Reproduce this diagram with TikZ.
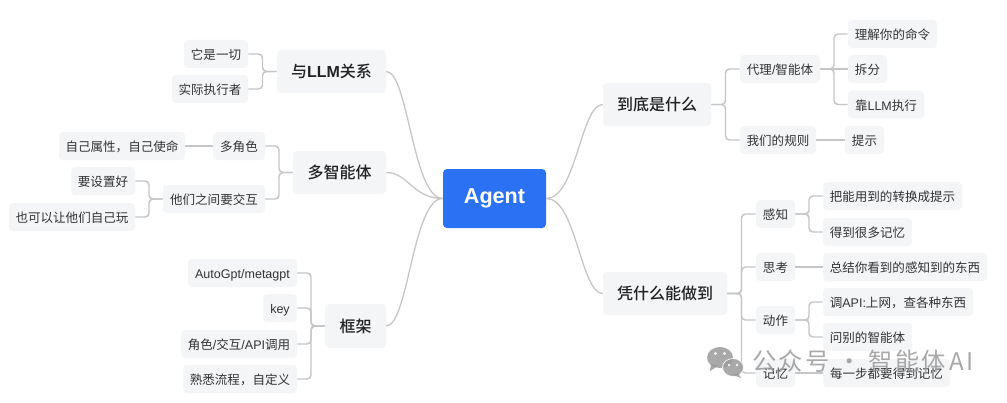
\documentclass[tikz,border=0pt]{standalone}
\usepackage{fontspec}
\usetikzlibrary{calc}
\setmainfont{Noto Sans CJK SC}
\newfontfamily\headf{Noto Sans CJK SC Medium}
\newfontfamily\latf{Liberation Sans}
\newfontfamily\latb{Liberation Sans Bold}
\newfontfamily\wmf[LetterSpace=9]{Noto Sans CJK SC}
\newcommand\lat[1]{{\latf #1}}
\definecolor{boxfill}{HTML}{F4F5F7}
\definecolor{boxtext}{HTML}{333333}
\definecolor{headtext}{HTML}{222222}
\definecolor{linkgray}{HTML}{C6C6C6}
\definecolor{rootblue}{HTML}{2B71F4}
\definecolor{wmgray}{HTML}{9A9A9A}
\tikzset{
  sz/.style 2 args={minimum width=#1*0.75pt,minimum height=#2*0.75pt},
  basebox/.style={inner sep=0pt,rounded corners=3pt,fill=boxfill},
  leaf/.style={basebox,text=boxtext,text height=0.9em,text depth=0.06em,font=\fontsize{9.4}{11}\selectfont},
  head/.style={basebox,text=headtext,text height=0.98em,text depth=0.05em,font=\fontsize{12}{14}\headf},
  root/.style={inner sep=0pt,rounded corners=3pt,fill=rootblue,text=white,text height=0.72em,text depth=0pt,font=\fontsize{16.2}{18}\latb},
  link/.style={draw=linkgray,line width=1.1pt,rounded corners=3pt},
  curve/.style={draw=linkgray,line width=0.95pt},
  wmark/.style={inner sep=0pt,text=wmgray,text opacity=0.85,font=\fontsize{18.2}{20}\selectfont},
}
\newcommand\lft[2]{\draw[link] (#1.east) -| ($(#1.east)!.5!(#2.west)$) |- (#2.west);}
\newcommand\rgt[2]{\draw[link] (#1.east) -| ($(#1.east)!.5!(#2.west)$) |- (#2.west);}
\begin{document}
\begin{tikzpicture}[x=0.75pt,y=-0.75pt]
\useasboundingbox (0,0) rectangle (1007,403);
\fill[white] (0,0) rectangle (1007,403);
% root
\node[root,sz={103}{59}] (agent) at (494.5,198.5) {Agent};
% left branches
\node[head,sz={109}{43}] (llm) at (331.5,71.5) {与{\latb LLM}关系};
\node[leaf,sz={64}{28}] (all) at (216,54) {它是一切};
\node[leaf,sz={76}{28}] (exec) at (210,89) {实际执行者};
\node[head,sz={93}{43}] (multi) at (339.5,172.5) {多智能体};
\node[leaf,sz={52}{28}] (roles) at (239,146) {多角色};
\node[leaf,sz={126}{28}] (self) at (122,146) {自己属性，自己使命};
\node[leaf,sz={102}{28}] (inter) at (214,199) {他们之间要交互};
\node[leaf,sz={64}{28}] (setup) at (103,181) {要设置好};
\node[leaf,sz={126}{28}] (play) at (72,217) {也可以让他们自己玩};
\node[head,sz={61}{44}] (frame) at (355.5,326) {框架};
\node[leaf,sz={109}{28}] (auto) at (242.5,273) {\lat{AutoGpt/metagpt}};
\node[leaf,sz={34}{28}] (key) at (280,308) {\lat{key}};
\node[leaf,sz={116}{28}] (api) at (239,344) {角色\lat{/}交互\lat{/API}调用};
\node[leaf,sz={114}{28}] (flow) at (240,379) {熟悉流程，自定义};
% right branches
\node[head,sz={108}{43}] (what) at (657,104.5) {到底是什么};
\node[leaf,sz={80}{28}] (proxy) at (780,69) {代理\lat{/}智能体};
\node[leaf,sz={89}{28}] (cmd) at (892.5,34) {理解你的命令};
\node[leaf,sz={39}{28}] (split) at (867.5,69) {拆分};
\node[leaf,sz={76}{28}] (run) at (886,104.5) {靠\lat{LLM}执行};
\node[leaf,sz={76}{28}] (rules) at (778,140) {我们的规则};
\node[leaf,sz={39}{28}] (hint) at (864.5,140) {提示};
\node[head,sz={124}{43}] (how) at (665,293.5) {凭什么能做到};
\node[leaf,sz={39}{28}] (sense) at (775.5,214) {感知};
\node[leaf,sz={139}{28}] (conv) at (892.5,196) {把能用到的转换成提示};
\node[leaf,sz={89}{28}] (mem) at (867.5,232) {得到很多记忆};
\node[leaf,sz={39}{28}] (think) at (775.5,267) {思考};
\node[leaf,sz={164}{28}] (sum) at (905,267) {总结你看到的感知到的东西};
\node[leaf,sz={39}{28}] (act) at (775.5,320) {动作};
\node[leaf,sz={150}{28}] (call) at (898,302) {调\lat{API:}上网，查各种东西};
\node[leaf,sz={89}{28}] (ask) at (867.5,337) {问别的智能体};
\node[leaf,sz={39}{28}] (memo) at (775.5,373) {记忆};
\node[leaf,sz={127}{28}] (each) at (886.5,373) {每一步都要得到记忆};
% curves from root
\draw[curve] (agent.west) .. controls +(-30,0) and +(22,0) .. (llm.east);
\draw[curve] (agent.west) .. controls +(-30,0) and +(22,0) .. (multi.east);
\draw[curve] (agent.west) .. controls +(-30,0) and +(22,0) .. (frame.east);
\draw[curve] (agent.east) .. controls +(30,0) and +(-22,0) .. (what.west);
\draw[curve] (agent.east) .. controls +(30,0) and +(-22,0) .. (how.west);
% brackets
\lft{all}{llm}
\lft{exec}{llm}
\lft{roles}{multi}
\lft{inter}{multi}
\draw[link] (self.east) -- (roles.west);
\lft{setup}{inter}
\lft{play}{inter}
\lft{auto}{frame}
\lft{key}{frame}
\lft{api}{frame}
\lft{flow}{frame}
\rgt{what}{proxy}
\rgt{what}{rules}
\rgt{proxy}{cmd}
\draw[link] (proxy.east) -- (split.west);
\rgt{proxy}{run}
\draw[link] (rules.east) -- (hint.west);
\rgt{how}{sense}
\rgt{how}{think}
\rgt{how}{act}
\rgt{how}{memo}
\rgt{sense}{conv}
\rgt{sense}{mem}
\draw[link] (think.east) -- (sum.west);
\rgt{act}{call}
\rgt{act}{ask}
\draw[link] (memo.east) -- (each.west);
% watermark
\begin{scope}[opacity=0.85]
\fill[wmgray] (720,357.5) ellipse[x radius=13,y radius=10.5];
\fill[wmgray] (711,364) -- (710,371) -- (718,366) -- cycle;
\fill[wmgray,draw=white,line width=0.6pt] (733,367.5) ellipse[x radius=10.5,y radius=9];
\fill[wmgray] (738,373) -- (741,378) -- (733,375) -- cycle;
\fill[white] (715.5,353.5) circle[radius=1.7] (724.5,353.5) circle[radius=1.7];
\fill[white] (729,365) circle[radius=1.4] (737,365) circle[radius=1.4];
\end{scope}
\node[wmark,anchor=west] (wm) at (752,361) {\wmf 公众号 · 智能体\kern2.5pt AI};
\end{tikzpicture}
\end{document}
